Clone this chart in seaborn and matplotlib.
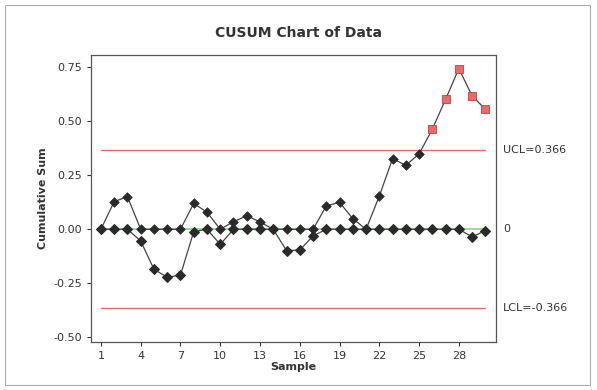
import numpy as np
import pandas as pd
import matplotlib.pyplot as plt
import seaborn as sns
from matplotlib.patches import Rectangle
import matplotlib.transforms as mtransforms

# Данные
samples = list(range(1, 31))
upper = [0.0, 0.128, 0.151, 0.0, 0.0, 0.0, 0.0, 0.120, 0.079, 0.0,
         0.035, 0.063, 0.034, 0.0, 0.0, 0.0, 0.0, 0.108, 0.125, 0.049,
         0.0, 0.154, 0.327, 0.296, 0.349, 0.464, 0.602, 0.744, 0.617, 0.556]
lower = [0.0, 0.0, 0.0, -0.054, -0.185, -0.222, -0.212, -0.011, 0.0, -0.070,
         0.0, 0.0, 0.0, 0.0, -0.099, -0.096, -0.031, 0.0, 0.0, 0.0,
         0.0, 0.0, 0.0, 0.0, 0.0, 0.0, 0.0, 0.0, -0.035, -0.006]
ucl = 0.366
lcl = -0.366
center = 0.0
x_ticks = [1, 4, 7, 10, 13, 16, 19, 22, 25, 28]
y_ticks = [-0.50, -0.25, 0.00, 0.25, 0.50, 0.75]

df = pd.DataFrame({'Sample': samples, 'Upper': upper, 'Lower': lower})
df['out'] = df['Upper'] > ucl

sns.set_style("white")
plt.rcParams['font.family'] = ['DejaVu Sans']

fig = plt.figure(figsize=(5.97, 3.90), dpi=100)
ax = fig.add_axes([0.1524, 0.123, 0.6784, 0.736])

# Контрольные линии
ax.plot([samples[0], samples[-1]], [ucl, ucl], color='#e07070', lw=1.0, zorder=1)
ax.plot([samples[0], samples[-1]], [lcl, lcl], color='#e07070', lw=1.0, zorder=1)
ax.plot([samples[0], samples[-1]], [center, center], color='#8fd08f', lw=1.2, zorder=1)

# Линии CUSUM
sns.lineplot(data=df, x='Sample', y='Lower', color='#444444', lw=0.9,
             marker='D', markersize=4.8, markerfacecolor='#2a2a2a',
             markeredgecolor='#2a2a2a', ax=ax, zorder=3)
sns.lineplot(data=df, x='Sample', y='Upper', color='#444444', lw=0.9, ax=ax, zorder=3)

# Точки в контроле / вне контроля
inc = df[~df['out']]
out = df[df['out']]
sns.scatterplot(data=inc, x='Sample', y='Upper', marker='D', s=24,
                color='#2a2a2a', edgecolor='#2a2a2a', linewidth=0.5, ax=ax, zorder=4)
sns.scatterplot(data=out, x='Sample', y='Upper', marker='s', s=26,
                color='#e86a6a', edgecolor='#c04040', linewidth=0.6, ax=ax, zorder=4)

ax.set_xlim(0.25, 30.8)
ax.set_ylim(-0.522, 0.807)
ax.set_xticks(x_ticks)
ax.set_yticks(y_ticks)
ax.set_yticklabels([f'{v:.2f}' for v in y_ticks])
ax.tick_params(axis='both', which='both', direction='out', length=3, width=0.8,
               labelsize=8, colors='#333333', bottom=True, left=True)
for s in ax.spines.values():
    s.set_color('#555555')
    s.set_linewidth(0.9)

ax.set_xlabel('Sample', fontsize=8, fontweight='bold', color='#333333', labelpad=1)
ax.set_ylabel('Cumulative Sum', fontsize=8, fontweight='bold', color='#333333', labelpad=4)

trans = mtransforms.blended_transform_factory(ax.transAxes, ax.transData)
ax.text(1.017, ucl, f'UCL={ucl:.3f}', transform=trans, va='center', ha='left', fontsize=8, color='#333333')
ax.text(1.017, center, '0', transform=trans, va='center', ha='left', fontsize=8, color='#333333')
ax.text(1.017, lcl, f'LCL={lcl:.3f}', transform=trans, va='center', ha='left', fontsize=8, color='#333333')

fig.text(0.5, 0.915, 'CUSUM Chart of Data', ha='center', va='center',
         fontsize=10, fontweight='semibold', color='#333333')

fig.patches.append(Rectangle((0.008, 0.012), 0.98, 0.975, transform=fig.transFigure,
                             fill=False, edgecolor='#aaaaaa', lw=0.8))

fig.savefig('out.png', dpi=100)
